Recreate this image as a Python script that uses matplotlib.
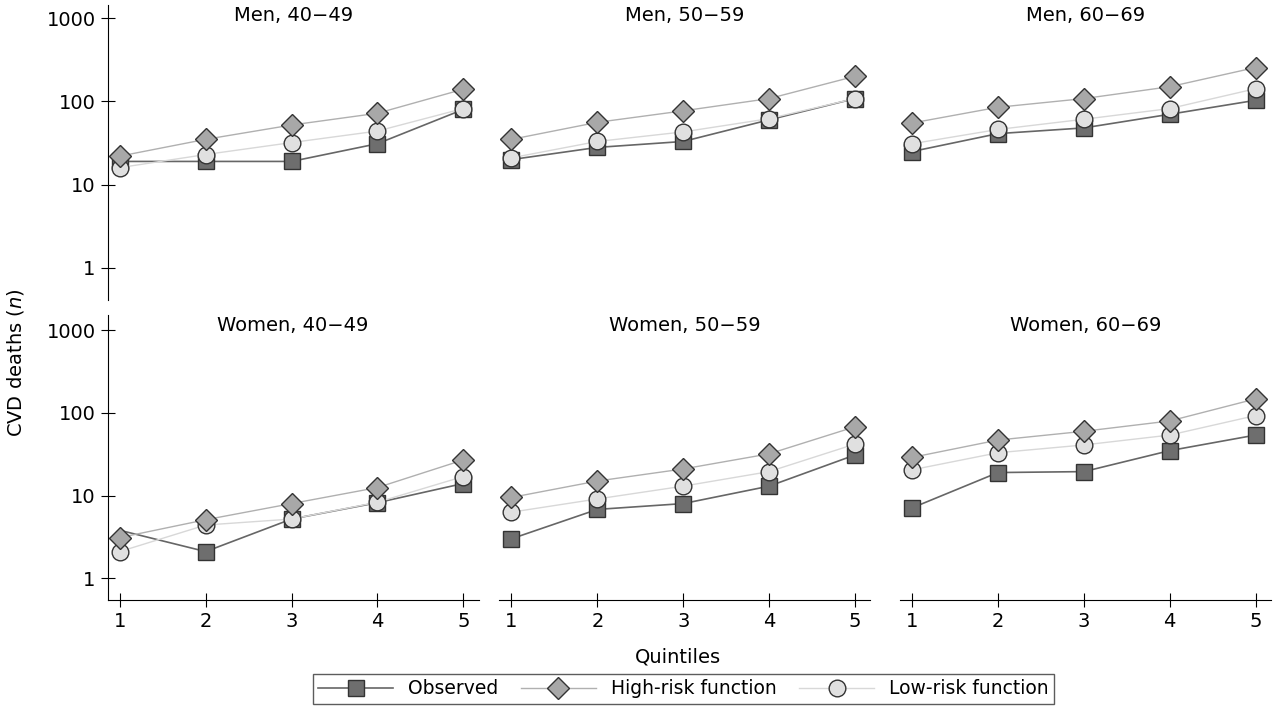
import numpy as np
import matplotlib.pyplot as plt

x = [1, 2, 3, 4, 5]
titles = ['Men, 40\u221249', 'Men, 50\u221259', 'Men, 60\u221269',
          'Women, 40\u221249', 'Women, 50\u221259', 'Women, 60\u221269']
observed = [[19, 19, 19, 31, 80], [20, 28, 33, 60, 108], [25, 41, 48, 70, 103],
            [3.8, 2.1, 5.2, 8.2, 14], [3, 6.8, 8, 13, 31], [7.1, 19, 19.5, 35, 54]]
high_risk = [[22, 35, 52, 72, 140], [35, 56, 77, 108, 200], [55, 85, 108, 150, 255],
             [3.1, 5.1, 8, 12.5, 27], [9.5, 15, 21, 32, 68], [29, 47, 60, 80, 148]]
low_risk = [[16, 23, 32, 44, 82], [21, 33, 43, 62, 108], [31, 46, 61, 82, 142],
            [2.1, 4.4, 5.2, 8.3, 17], [6.3, 9.1, 13, 19.5, 42], [20.5, 33, 41, 54, 93]]

fig = plt.figure(figsize=(12.8, 7.25), dpi=100)
lefts = [0.084, 0.39, 0.703]
w = 0.29
rows = [(0.586, 0.407), (0.172, 0.393)]
ylims = [(0.41, 1434), (0.54, 1518)]

for k in range(6):
    r, c = divmod(k, 3)
    ax = fig.add_axes([lefts[c], rows[r][0], w, rows[r][1]])
    ax.set_yscale('log')
    ax.set_xlim(0.857, 5.18)
    ax.set_ylim(*ylims[r])
    ax.plot(x, low_risk[k], color='#d8d8d8', lw=1, marker='o', ms=12,
            mfc='#e0e0e0', mec='#333333', mew=1, zorder=2, label='Low-risk function')
    ax.plot(x, high_risk[k], color='#b0b0b0', lw=1, marker='D', ms=11,
            mfc='#a8a8a8', mec='#333333', mew=1, zorder=3, label='High-risk function')
    ax.plot(x, observed[k], color='#666666', lw=1.2, marker='s', ms=11,
            mfc='#6e6e6e', mec='#333333', mew=1, zorder=1, label='Observed')
    if k == 3:
        ax.lines[-1].set_markevery([1, 2, 3, 4])
    ax.text(0.5, 0.965, titles[k], transform=ax.transAxes, ha='center', va='center', fontsize=14)
    for s in ['top', 'right']:
        ax.spines[s].set_visible(False)
    ax.spines['left'].set_visible(c == 0)
    ax.spines['bottom'].set_visible(r == 1)
    ax.minorticks_off()
    if c == 0:
        ax.set_yticks([1, 10, 100, 1000])
        ax.set_yticklabels(['1', '10', '100', '1000'])
        ax.tick_params(axis='y', direction='inout', length=10, labelsize=14)
    else:
        ax.set_yticks([])
    if r == 1:
        ax.set_xticks(x)
        ax.tick_params(axis='x', direction='inout', length=10, labelsize=14)
    else:
        ax.set_xticks([])
    if k == 0:
        handles, labels = ax.get_legend_handles_labels()

fig.text(0.012, 0.5, 'CVD deaths ($n$)', rotation=90, va='center', ha='center', fontsize=14)
fig.text(0.53, 0.094, 'Quintiles', ha='center', va='center', fontsize=14)
order = [2, 1, 0]
fig.legend([handles[i] for i in order], [labels[i] for i in order], loc='center',
           bbox_to_anchor=(0.534, 0.05), ncol=3, fontsize=13.5, frameon=True,
           fancybox=False, edgecolor='#333333', handlelength=4, columnspacing=1.2,
           borderpad=0.3)
fig.savefig('out.png', dpi=100)
